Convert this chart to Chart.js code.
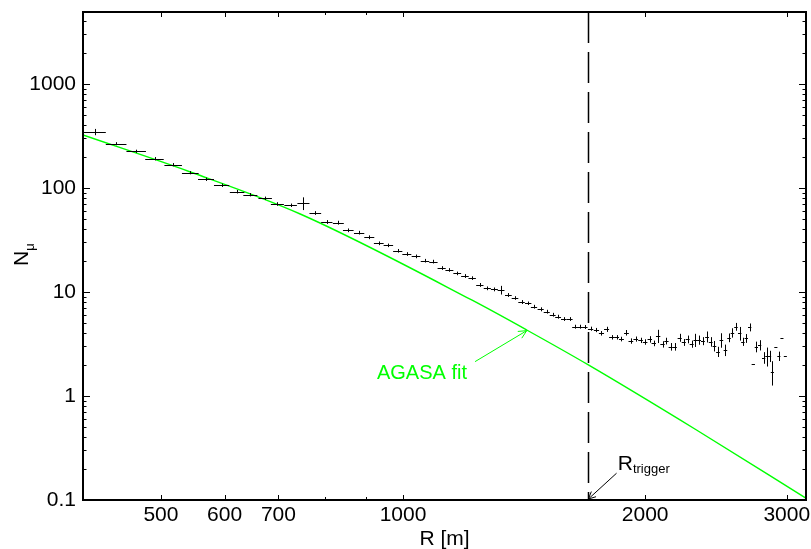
<!DOCTYPE html>
<html>
<head>
<meta charset="utf-8">
<script src="https://cdn.jsdelivr.net/npm/chart.js@4.4.0/dist/chart.umd.min.js"></script>
<style>
  html, body { margin: 0; padding: 0; background: #fff; }
</style>
</head>
<body>
<canvas id="ldfCanvas" width="811" height="549"></canvas>
<script>
// distance to shower core (m), muon number and its error
const radius = [414, 440, 466, 491, 518, 544, 569, 595, 622, 646,
    674, 698, 725, 752, 778, 804, 831, 855, 882, 908,
    933, 959, 985, 1011, 1038, 1065, 1091, 1117, 1142, 1168,
    1194, 1219, 1246, 1273, 1299, 1324, 1352, 1378, 1404, 1431,
    1455, 1483, 1509, 1535, 1559, 1585, 1612, 1636, 1659, 1683,
    1711, 1740, 1765, 1791, 1817, 1843, 1869, 1896, 1920, 1947,
    1974, 2000, 2027, 2050, 2076, 2102, 2126, 2152, 2177, 2208,
    2234, 2259, 2285, 2310, 2334, 2360, 2388, 2413, 2439, 2464,
    2488, 2517, 2543, 2568, 2594, 2622, 2646, 2672, 2698, 2726,
    2750, 2776, 2808, 2834, 2856, 2879, 2908, 2933, 2959, 2988]
const muons = [345.6, 266.7, 225.4, 191.2, 167.5, 140.3, 121.3, 106.2, 92.1, 86.2,
    79.6, 70.2, 68.2, 71.3, 57.5, 47.1, 46.4, 39.2, 37.2, 33.6,
    29.4, 28.1, 24.9, 23.2, 22.0, 20.0, 19.6, 17.0, 16.3, 15.1,
    14.25, 13.6, 11.7, 10.85, 10.6, 10.45, 9.36, 8.76, 8.01, 7.79,
    7.22, 6.82, 6.47, 6.05, 5.79, 5.50, 5.50, 4.64, 4.64, 4.61,
    4.44, 4.31, 4.01, 4.38, 3.67, 3.67, 3.53, 4.06, 3.38, 3.53,
    3.43, 3.31, 3.51, 3.21, 3.78, 3.14, 3.38, 2.98, 2.98, 3.64,
    3.28, 3.51, 3.16, 3.46, 3.46, 3.38, 3.72, 3.33, 3.03, 2.67,
    3.46, 2.77, 3.64, 4.06, 4.64, 4.01, 3.33, 3.59, 4.58, 2.02,
    2.98, 3.09, 2.34, 2.42, 2.42, 1.71, 2.98, 2.42, 3.61, 2.42]
const muonErr = [24, 9, 8, 7, 6, 5, 4.5, 4, 3.5, 3.2,
    3, 2.8, 2.6, 10, 2.4, 2, 2, 1.6, 1.5, 1.4,
    1.2, 1.1, 1.0, 0.95, 0.9, 0.8, 0.8, 0.7, 0.65, 0.6,
    0.6, 0.55, 0.5, 0.45, 0.45, 1.0, 0.4, 0.35, 0.35, 0.3,
    0.3, 0.3, 0.27, 0.25, 0.25, 0.23, 0.23, 0.2, 0.2, 0.2,
    0.2, 0.2, 0.2, 0.25, 0.18, 0.18, 0.18, 0.25, 0.2, 0.2,
    0.2, 0.2, 0.25, 0.2, 0.55, 0.22, 0.25, 0.25, 0.25, 0.32,
    0.25, 0.3, 0.25, 0.5, 0.35, 0.3, 0.45, 0.35, 0.35, 0.3,
    0.55, 0.35, 0.35, 0.42, 0.4, 0.6, 0.3, 0.35, 0.4, 0,
    0.35, 0.35, 0.3, 0.5, 0.3, 0.45, 0, 0.25, 0, 0]
const binHalf = 13

// AGASA fit curve
const fitR = [400, 544, 745, 1217, 1425, 1700, 2317, 3165]
const fitN = [323, 142.5, 56.2, 8.38, 4.31, 1.99, 0.471, 0.105]

// axes
const xTickLabels = [500, 600, 700, 1000, 2000, 3000]
const xMinorTicks = [800, 900]
const yTickLabels = [0.1, 1, 10, 100, 1000]
const rTrigger = 1700

const font = "'Liberation Sans', Arial, Helvetica, sans-serif"
const green = '#00ff00'

function yMinorTicks() {
    let out = []
    yTickLabels.forEach(d => {
        for (let k = 2; k <= 9; k++) out.push(d * k)
    })
    return out
}

function arrow(ctx, x0, y0, x1, y1, head) {
    const a = Math.atan2(y1 - y0, x1 - x0)
    ctx.beginPath()
    ctx.moveTo(x0, y0)
    ctx.lineTo(x1, y1)
    ctx.moveTo(x1 - head * Math.cos(a - 0.45), y1 - head * Math.sin(a - 0.45))
    ctx.lineTo(x1, y1)
    ctx.lineTo(x1 - head * Math.cos(a + 0.45), y1 - head * Math.sin(a + 0.45))
    ctx.stroke()
}

const frameAxes = {
    id: 'frameAxes',
    afterDatasetsDraw(chart) {
        const { ctx, scales: { x, y } } = chart
        const area = chart.chartArea
        ctx.save()
        ctx.beginPath()
        ctx.rect(area.left, area.top, area.right - area.left, area.bottom - area.top)
        ctx.clip()
        ctx.strokeStyle = '#000'
        ctx.lineWidth = 1
        ctx.beginPath()
        radius.forEach((r, i) => {
            const px = Math.round(x.getPixelForValue(r)) + 0.5
            const py = Math.round(y.getPixelForValue(muons[i])) + 0.5
            ctx.moveTo(x.getPixelForValue(r - binHalf), py)
            ctx.lineTo(x.getPixelForValue(r + binHalf), py)
            if (muonErr[i] > 0) {
                ctx.moveTo(px, y.getPixelForValue(muons[i] - muonErr[i]))
                ctx.lineTo(px, y.getPixelForValue(muons[i] + muonErr[i]))
            }
        })
        ctx.stroke()

        // R_trigger dashed line
        const tx = Math.round(x.getPixelForValue(rTrigger)) + 0.5
        ctx.lineWidth = 1.5
        ctx.setLineDash([31, 9])
        ctx.beginPath()
        ctx.moveTo(tx, area.top)
        ctx.lineTo(tx, area.bottom)
        ctx.stroke()
        ctx.restore()
    },
    afterDraw(chart) {
        const { ctx, scales: { x, y } } = chart
        const { left, right, top, bottom } = chart.chartArea
        ctx.save()
        ctx.strokeStyle = '#000'

        // ticks, pointing inward on all four sides
        ctx.lineWidth = 1
        ctx.beginPath()
        const xt = (v, len) => {
            const px = Math.round(x.getPixelForValue(v)) + 0.5
            ctx.moveTo(px, bottom); ctx.lineTo(px, bottom - len)
            ctx.moveTo(px, top); ctx.lineTo(px, top + len)
        }
        const yt = (v, len) => {
            const py = Math.round(y.getPixelForValue(v)) + 0.5
            ctx.moveTo(left, py); ctx.lineTo(left + len, py)
            ctx.moveTo(right, py); ctx.lineTo(right - len, py)
        }
        xTickLabels.forEach(v => xt(v, 5))
        xMinorTicks.forEach(v => xt(v, 3))
        yTickLabels.forEach(v => yt(v, 7))
        yMinorTicks().forEach(v => { if (v < y.max) yt(v, 3.5) })
        ctx.stroke()

        // frame
        ctx.lineWidth = 2
        ctx.strokeRect(left, top, right - left, bottom - top)

        // y title N_mu
        ctx.fillStyle = '#000'
        ctx.save()
        ctx.translate(28, (top + bottom) / 2 + 10)
        ctx.rotate(-Math.PI / 2)
        ctx.font = '21px ' + font
        ctx.textBaseline = 'alphabetic'
        ctx.fillText('N', 0, 0)
        const wN = ctx.measureText('N').width
        ctx.font = '13px ' + font
        ctx.fillText('\u03bc', wN, 6)
        ctx.restore()

        // R_trigger label and arrow
        ctx.lineWidth = 1
        arrow(ctx, x.getPixelForValue(1843), y.getPixelForValue(0.181),
            x.getPixelForValue(rTrigger), bottom - 1, 8)
        const lx = x.getPixelForValue(1849), ly = y.getPixelForValue(0.194)
        ctx.font = '21px ' + font
        ctx.fillText('R', lx, ly)
        const wR = ctx.measureText('R').width
        ctx.font = '13px ' + font
        ctx.fillText('trigger', lx + wR, ly + 3)

        // AGASA fit label and arrow
        ctx.strokeStyle = green
        ctx.fillStyle = green
        arrow(ctx, x.getPixelForValue(1229), y.getPixelForValue(2.14),
            x.getPixelForValue(1425), y.getPixelForValue(4.25), 9)
        ctx.font = '20px ' + font
        ctx.fillText('AGASA fit', x.getPixelForValue(928), y.getPixelForValue(1.457))
        ctx.restore()
    }
}

const canvas = document.getElementById('ldfCanvas')
const ldfChart = new Chart(canvas, {
    type: 'scatter',
    data: {
        datasets: [{
            label: 'data',
            data: radius.map((r, i) => ({ x: r, y: muons[i] })),
            pointRadius: 0,
            showLine: false
        }, {
            label: 'AGASA fit',
            type: 'line',
            data: fitR.map((r, i) => ({ x: r, y: fitN[i] })),
            borderColor: green,
            borderWidth: 1.4,
            pointRadius: 0,
            fill: false,
            cubicInterpolationMode: 'monotone'
        }]
    },
    options: {
        responsive: false,
        animation: false,
        devicePixelRatio: 1,
        layout: { padding: { top: 12, right: 5, left: 0, bottom: 0 } },
        plugins: { legend: { display: false }, tooltip: { enabled: false } },
        scales: {
            x: {
                type: 'logarithmic',
                position: 'bottom',
                min: 400,
                max: 3170,
                afterBuildTicks: s => { s.ticks = xTickLabels.map(v => ({ value: v })) },
                afterFit: s => { s.height = 49; s.paddingLeft = 0; s.paddingRight = 0 },
                grid: { display: false, drawTicks: false },
                border: { display: false },
                ticks: {
                    autoSkip: false, maxRotation: 0, minRotation: 0, padding: 3,
                    color: '#000', font: { family: font, size: 21 },
                    callback: v => String(v)
                },
                title: {
                    display: true, text: 'R [m]', color: '#000',
                    font: { family: font, size: 21, lineHeight: 1 },
                    padding: { top: 0, bottom: -1 }
                }
            },
            y: {
                type: 'logarithmic',
                min: 0.1,
                max: 4920,
                afterBuildTicks: s => { s.ticks = yTickLabels.map(v => ({ value: v })) },
                afterFit: s => { s.width = 83; s.paddingTop = 0; s.paddingBottom = 0 },
                grid: { display: false, drawTicks: false },
                border: { display: false },
                ticks: {
                    autoSkip: false, padding: 7,
                    color: '#000', font: { family: font, size: 21 },
                    callback: v => String(v)
                }
            }
        }
    },
    plugins: [frameAxes]
})
</script>
</body>
</html>
